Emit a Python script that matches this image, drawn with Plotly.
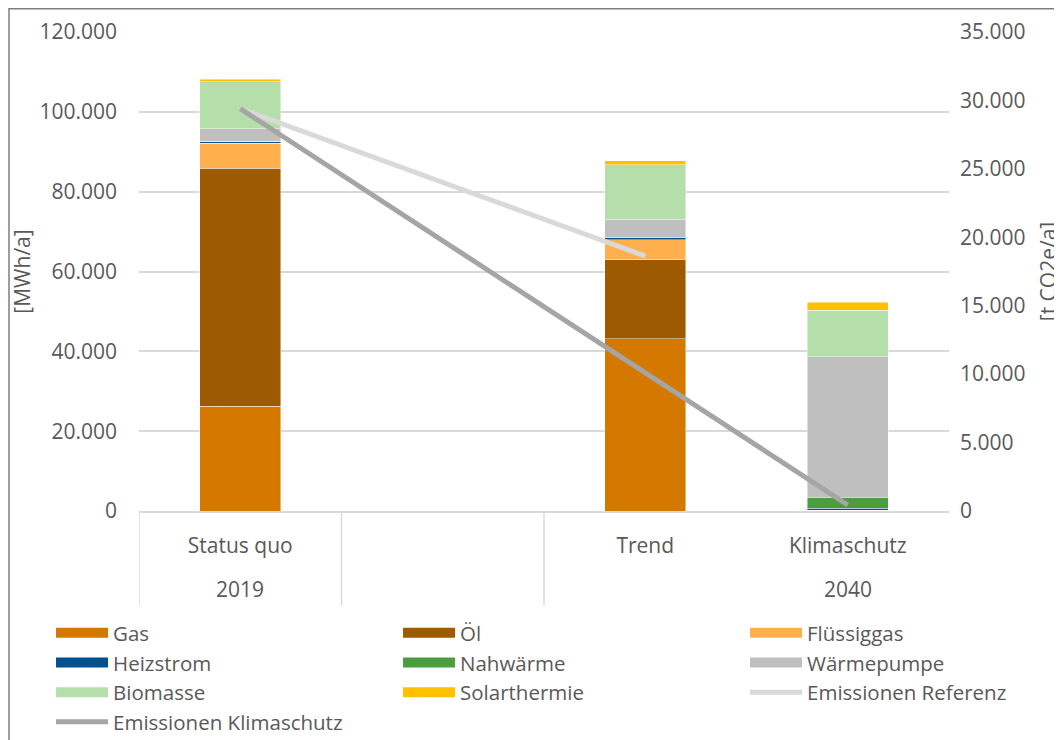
"""
Endenergie nach Energieträgern und Emissionen: Status quo 2019 vs. Szenarien 2040
"""

import plotly.graph_objects as go

# categories (second slot is an empty spacer column)
categories = ["Status quo", " ", "Trend", "Klimaschutz"]
years = ["2019", "", "", "2040"]

# final energy by carrier [MWh/a]
gas = [26300, None, 43100, 150]
oel = [59600, None, 19800, 0]
fluessiggas = [6200, None, 5000, 0]
heizstrom = [580, None, 590, 580]
nahwaerme = [0, None, 0, 2750]
waermepumpe = [3080, None, 4420, 35150]
biomasse = [11780, None, 13780, 11620]
solarthermie = [680, None, 1090, 2080]

# emissions [t CO2e/a]
emis_referenz = [29400, None, 18630, None]
emis_klimaschutz = [29400, None, None, 440]

# name, values, colour, legend column
bar_series = [
    ("Gas", gas, "#D47800", "legend"),
    ("Öl", oel, "#9E5A00", "legend2"),
    ("Flüssiggas", fluessiggas, "#FFB04C", "legend3"),
    ("Heizstrom", heizstrom, "#00518E", "legend"),
    ("Nahwärme", nahwaerme, "#4A9E3C", "legend2"),
    ("Wärmepumpe", waermepumpe, "#BFBFBF", "legend3"),
    ("Biomasse", biomasse, "#B4DFAB", "legend"),
    ("Solarthermie", solarthermie, "#FFC000", "legend2"),
]

TXT = "#595959"
GRID = "#D9D9D9"
FONT = "Open Sans"
FS = 21
LFS = 20.5

fig = go.Figure()

for name, vals, color, leg in bar_series:
    fig.add_trace(go.Bar(
        x=categories,
        y=vals,
        name=name,
        legendgroup=name,
        showlegend=False,
        marker=dict(color=color, line=dict(color="rgba(255,255,255,0.6)", width=0.75)),
        yaxis="y",
    ))
    # legend-only entry so the key is a wide bar like the original
    fig.add_trace(go.Scatter(
        x=[None], y=[None],
        name=name,
        legendgroup=name,
        legend=leg,
        mode="lines",
        line=dict(color=color, width=14),
        yaxis="y",
    ))

fig.add_trace(go.Scatter(
    x=categories, y=emis_referenz, name="Emissionen Referenz",
    legend="legend3",
    mode="lines", connectgaps=True,
    line=dict(color="#D9D9D9", width=5),
    yaxis="y2",
))
fig.add_trace(go.Scatter(
    x=categories, y=emis_klimaschutz, name="Emissionen Klimaschutz",
    legend="legend",
    mode="lines", connectgaps=True,
    line=dict(color="#A5A5A5", width=5),
    yaxis="y2",
))

# year labels under the category labels
for cat, yr in zip(categories, years):
    if yr:
        fig.add_annotation(
            x=cat, xref="x", y=-0.163, yref="paper", yanchor="middle",
            text=yr, showarrow=False, font=dict(family=FONT, size=FS, color=TXT),
        )

# group dividers of the two-level category axis
for xb in [-0.5, 0.5, 1.5]:
    fig.add_shape(type="line", xref="x", yref="paper",
                  x0=xb, x1=xb, y0=0, y1=-0.196,
                  line=dict(color=GRID, width=1.5))

# outer chart frame (cut off at right and bottom)
fig.add_shape(type="rect", xref="paper", yref="paper",
              x0=-0.1605, x1=1.5, y0=-1.0, y1=1.0485,
              line=dict(color="#7F7F7F", width=1.5), layer="below")


def legend_col(x):
    return dict(
        orientation="v",
        x=x, xanchor="left",
        y=-0.213, yanchor="top",
        traceorder="normal",
        font=dict(family=FONT, size=LFS, color=TXT),
        itemwidth=52,
        bgcolor="rgba(0,0,0,0)",
    )


fig.update_layout(
    width=1054,
    height=732,
    margin=dict(l=131, r=113, t=24, b=229, autoexpand=False),
    plot_bgcolor="white",
    paper_bgcolor="white",
    barmode="stack",
    bargap=0.6,
    separators=",.",
    font=dict(family=FONT, size=FS, color=TXT),
    showlegend=True,
    legend=legend_col(-0.1086),
    legend2=legend_col(0.3198),
    legend3=legend_col(0.7482),
    xaxis=dict(
        type="category",
        categoryorder="array",
        categoryarray=categories,
        range=[-0.5, 3.5],
        showline=True, linecolor=GRID, linewidth=1.5,
        showgrid=False,
        ticks="",
        ticklabelstandoff=15,
        tickfont=dict(family=FONT, size=FS, color=TXT),
    ),
    yaxis=dict(
        range=[0, 120000],
        dtick=20000,
        tickformat=",.0f",
        showgrid=True, gridcolor=GRID, gridwidth=1.5,
        zeroline=False,
        ticklabelstandoff=21,
        title=dict(text="[MWh/a]", standoff=12, font=dict(family=FONT, size=FS, color=TXT)),
        tickfont=dict(family=FONT, size=FS, color=TXT),
    ),
    yaxis2=dict(
        overlaying="y",
        side="right",
        range=[0, 35000],
        dtick=5000,
        tickformat=",.0f",
        showgrid=False,
        zeroline=False,
        ticklabelstandoff=10,
        title=dict(text="[t CO2e/a]", standoff=20, font=dict(family=FONT, size=FS, color=TXT)),
        tickfont=dict(family=FONT, size=FS, color=TXT),
    ),
)

fig.write_html("out.html")
